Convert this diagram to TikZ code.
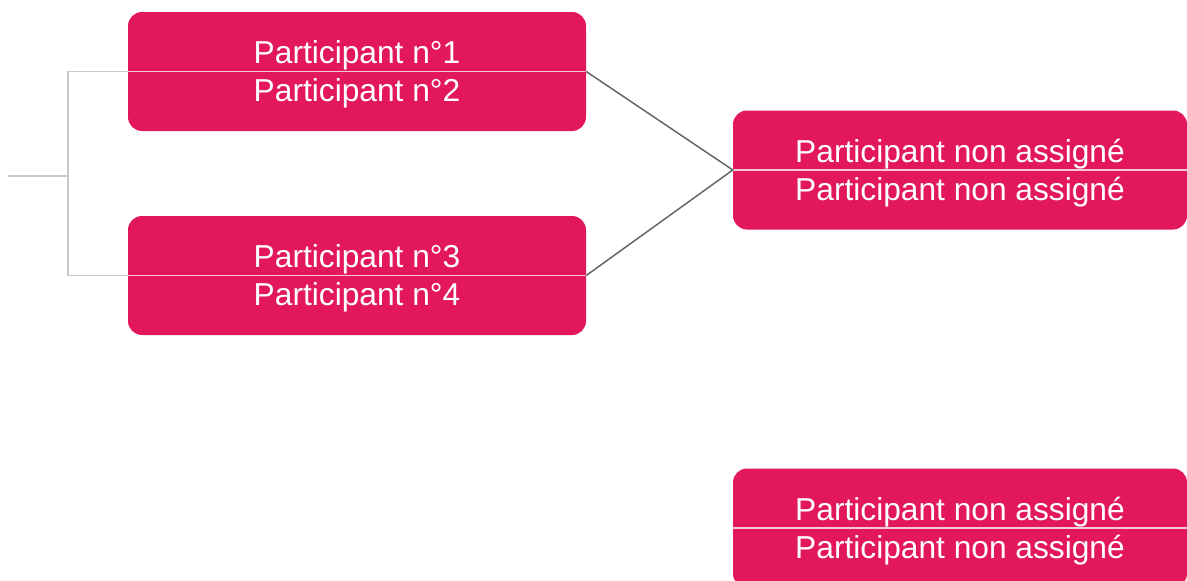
\documentclass[tikz,border=0pt]{standalone}
\usepackage{fontspec}
\setmainfont{Liberation Sans}
\definecolor{matchred}{HTML}{E2185B}
\definecolor{bracketgray}{HTML}{C8C8C8}
\definecolor{linkgray}{HTML}{666666}
\definecolor{splitpink}{HTML}{F6C9D7}
\begin{document}
\begin{tikzpicture}[x=1pt,y=-1pt,
    match/.style={fill=matchred, rounded corners=14pt, minimum height=119pt, inner sep=0pt},
    player/.style={text=white, font=\fontsize{31.7}{36}\selectfont, anchor=base, inner sep=0pt},
    split/.style={splitpink, line width=1.5pt}]
  \clip (0,0) rectangle (1187,581);
  % matches
  \node[match, minimum width=458pt] (m1) at (357,71.5) {};
  \node[match, minimum width=458pt] (m2) at (357,275.5) {};
  \node[match, minimum width=454pt] (r1) at (960,170) {};
  \node[match, minimum width=454pt] (r2) at (960,528) {};
  % splits
  \draw[split] (m1.west) -- (m1.east);
  \draw[split] (m2.west) -- (m2.east);
  \draw[split] (r1.west) -- (r1.east);
  \draw[split] (r2.west) -- (r2.east);
  % bracket
  \coordinate (feed) at (8,176);
  \draw[bracketgray, line width=1.5pt] (m1.west) -- ++(-60,0) |- (m2.west);
  \draw[bracketgray, line width=1.5pt] (feed) -- ++(60,0);
  \draw[linkgray, line width=1.5pt] (m1.east) -- (r1.west) -- (m2.east);
  % names
  \node[player] (n1) at ([yshift=8pt]m1.center) {Participant n°1};
  \node[player] (n2) at ([yshift=-30pt]m1.center) {Participant n°2};
  \node[player] (n3) at ([yshift=8pt]m2.center) {Participant n°3};
  \node[player] (n4) at ([yshift=-30pt]m2.center) {Participant n°4};
  \node[player] (n5) at ([yshift=8pt]r1.center) {Participant non assigné};
  \node[player] (n6) at ([yshift=-30pt]r1.center) {Participant non assigné};
  \node[player] (n7) at ([yshift=8pt]r2.center) {Participant non assigné};
  \node[player] (n8) at ([yshift=-30pt]r2.center) {Participant non assigné};
\end{tikzpicture}
\end{document}
